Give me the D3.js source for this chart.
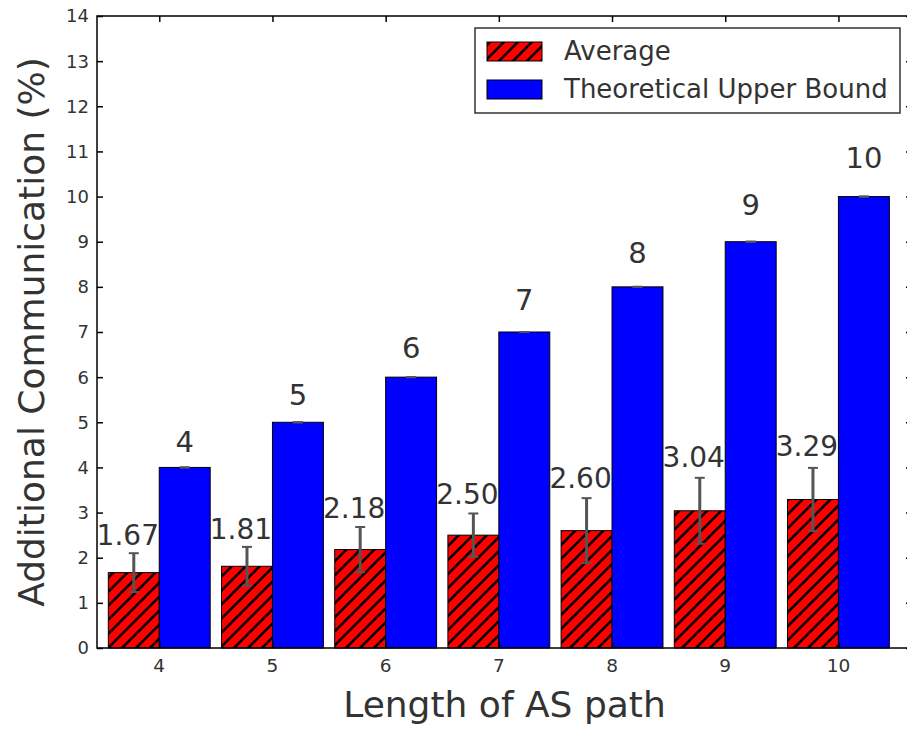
<!DOCTYPE html>
<html lang="en">
<head>
<meta charset="utf-8">
<script src="https://cdn.jsdelivr.net/npm/d3@7"></script>
<style>
    body { margin: 0; background: #fff; }
    svg { display: block; font-family: "DejaVu Sans", sans-serif; }
</style>
</head>
<body>
<div id="chart"></div>
<script>
    // Data
    const pathLengths = [4, 5, 6, 7, 8, 9, 10];
    const averages = [1.67, 1.81, 2.18, 2.50, 2.60, 3.04, 3.29];
    const averageErrors = [0.43, 0.43, 0.50, 0.48, 0.72, 0.73, 0.70];
    const upperBounds = [4, 5, 6, 7, 8, 9, 10];
    const upperErrors = [0, 0, 0, 0, 0, 0, 0];
    const yTicks = d3.range(0, 15);
    const seriesNames = ["Average", "Theoretical Upper Bound"];

    const width = 907, height = 729;
    const barWidth = 0.45;

    const svg = d3.select("#chart").append("svg")
        .attr("width", width)
        .attr("height", height);

    // Hatch for the average bars
    const defs = svg.append("defs");
    const hatch = defs.append("pattern")
        .attr("id", "hatch")
        .attr("patternUnits", "userSpaceOnUse")
        .attr("width", 14)
        .attr("height", 14);
    hatch.append("rect").attr("width", 14).attr("height", 14).attr("fill", "#ff0000");
    hatch.append("path")
        .attr("d", "M0,14 L14,0 M-3.5,3.5 L3.5,-3.5 M10.5,17.5 L17.5,10.5")
        .attr("stroke", "#000")
        .attr("stroke-width", 2.6);

    // Scales: x in bar-index units like matplotlib's bar positions
    const x = d3.scaleLinear().domain([-0.1, 7.1]).range([97, 912]);
    const y = d3.scaleLinear().domain([0, 14]).range([648, 16]);

    const idx = pathLengths.map((d, i) => i);

    // Value labels (drawn under the bars, as in the reference)
    svg.append("g").selectAll("text")
        .data(idx)
        .enter().append("text")
        .attr("x", i => x(i + barWidth / 2) - 6)
        .attr("y", i => y(averages[i] * 1.05 + averageErrors[i]) - 4)
        .attr("text-anchor", "middle")
        .attr("font-size", 28)
        .attr("fill", "#333")
        .text(i => averages[i].toFixed(2));

    svg.append("g").selectAll("text")
        .data(idx)
        .enter().append("text")
        .attr("x", i => x(i + barWidth * 1.5))
        .attr("y", i => y(upperBounds[i] * 1.05 + upperErrors[i]) - 6)
        .attr("text-anchor", "middle")
        .attr("font-size", 29)
        .attr("fill", "#333")
        .text(i => upperBounds[i]);

    // Average bars
    svg.append("g").selectAll("rect")
        .data(idx)
        .enter().append("rect")
        .attr("x", i => x(i))
        .attr("y", i => y(averages[i]))
        .attr("width", i => x(i + barWidth) - x(i))
        .attr("height", i => y(0) - y(averages[i]))
        .attr("fill", "url(#hatch)")
        .attr("stroke", "#000")
        .attr("stroke-width", 1);

    // Upper bound bars
    svg.append("g").selectAll("rect")
        .data(idx)
        .enter().append("rect")
        .attr("x", i => x(i + barWidth))
        .attr("y", i => y(upperBounds[i]))
        .attr("width", i => x(i + barWidth * 2) - x(i + barWidth))
        .attr("height", i => y(0) - y(upperBounds[i]))
        .attr("fill", "#0000ff")
        .attr("stroke", "#000")
        .attr("stroke-width", 1);

    // Error bars
    function errorBars(values, errors, offset) {
        const g = svg.append("g").attr("stroke", "#555");
        idx.forEach(i => {
            const cx = x(i + offset);
            const lo = y(values[i] - errors[i]), hi = y(values[i] + errors[i]);
            g.append("line")
                .attr("x1", cx).attr("x2", cx)
                .attr("y1", lo).attr("y2", hi)
                .attr("stroke-width", 3);
            [lo, hi].forEach(cy => {
                g.append("line")
                    .attr("x1", cx - 5).attr("x2", cx + 5)
                    .attr("y1", cy).attr("y2", cy)
                    .attr("stroke-width", 2);
            });
        });
    }
    errorBars(averages, averageErrors, barWidth / 2);
    errorBars(upperBounds, upperErrors, barWidth * 1.5);

    // Frame
    svg.append("rect")
        .attr("x", x(-0.1)).attr("y", y(14))
        .attr("width", x(7.1) - x(-0.1))
        .attr("height", y(0) - y(14))
        .attr("fill", "none")
        .attr("stroke", "#000")
        .attr("stroke-width", 1.5);

    // Left axis, ticks inward
    const yAxis = svg.append("g")
        .attr("transform", `translate(${x(-0.1)},0)`)
        .call(d3.axisRight(y).tickValues(yTicks).tickSize(6).tickFormat(""));
    yAxis.select(".domain").remove();
    yAxis.selectAll("line").attr("stroke", "#000").attr("stroke-width", 1.5);

    svg.append("g").selectAll("text")
        .data(yTicks)
        .enter().append("text")
        .attr("x", x(-0.1) - 8)
        .attr("y", d => y(d))
        .attr("dy", "0.36em")
        .attr("text-anchor", "end")
        .attr("font-size", 18)
        .attr("fill", "#333")
        .text(d => d);

    // Right axis ticks
    const yAxisR = svg.append("g")
        .attr("transform", `translate(${x(7.1)},0)`)
        .call(d3.axisLeft(y).tickValues(yTicks).tickSize(6).tickFormat(""));
    yAxisR.select(".domain").remove();
    yAxisR.selectAll("line").attr("stroke", "#000").attr("stroke-width", 1.5);

    // Bottom and top ticks at the category positions
    const tickPos = idx.map(i => i + barWidth);
    const xAxis = svg.append("g")
        .attr("transform", `translate(0,${y(0)})`)
        .call(d3.axisTop(x).tickValues(tickPos).tickSize(6).tickFormat(""));
    xAxis.select(".domain").remove();
    xAxis.selectAll("line").attr("stroke", "#000").attr("stroke-width", 1.5);

    const xAxisTop = svg.append("g")
        .attr("transform", `translate(0,${y(14)})`)
        .call(d3.axisBottom(x).tickValues(tickPos).tickSize(6).tickFormat(""));
    xAxisTop.select(".domain").remove();
    xAxisTop.selectAll("line").attr("stroke", "#000").attr("stroke-width", 1.5);

    svg.append("g").selectAll("text")
        .data(idx)
        .enter().append("text")
        .attr("x", i => x(i + barWidth))
        .attr("y", y(0) + 24)
        .attr("text-anchor", "middle")
        .attr("font-size", 18.5)
        .attr("fill", "#333")
        .text(i => pathLengths[i]);

    // Axis titles
    svg.append("text")
        .attr("x", (x(-0.1) + x(7.1)) / 2)
        .attr("y", 717)
        .attr("text-anchor", "middle")
        .attr("font-size", 36)
        .attr("fill", "#333")
        .text("Length of AS path");

    svg.append("text")
        .attr("transform", `translate(44,${(y(0) + y(14)) / 2}) rotate(-90)`)
        .attr("text-anchor", "middle")
        .attr("font-size", 36)
        .attr("fill", "#333")
        .text("Additional Communication (%)");

    // Legend
    const legend = svg.append("g");
    legend.append("rect")
        .attr("x", 475).attr("y", 28)
        .attr("width", 425).attr("height", 85)
        .attr("fill", "#fff")
        .attr("stroke", "#333")
        .attr("stroke-width", 1.5);
    const fills = ["url(#hatch)", "#0000ff"];
    seriesNames.forEach((name, k) => {
        const cy = 51 + k * 38;
        legend.append("rect")
            .attr("x", 487).attr("y", cy - 9)
            .attr("width", 55).attr("height", 19)
            .attr("fill", fills[k])
            .attr("stroke", "#000");
        legend.append("text")
            .attr("x", 564).attr("y", cy)
            .attr("dy", "0.36em")
            .attr("font-size", 26)
            .attr("fill", "#333")
            .text(name);
    });
</script>
</body>
</html>
